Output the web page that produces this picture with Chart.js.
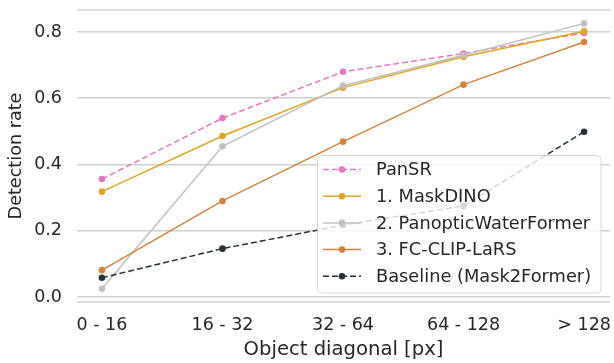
<!DOCTYPE html>
<html>
<head>
<meta charset="utf-8">
<script src="https://cdn.jsdelivr.net/npm/chart.js@4.4.1/dist/chart.umd.min.js"></script>
<style>
  html, body { margin: 0; padding: 0; background: #ffffff; }
</style>
</head>
<body>
<canvas id="detCanvas" width="614" height="363"></canvas>
<script>
// bins of object diagonal
var categories = ['0 - 16', '16 - 32', '32 - 64', '64 - 128', '> 128'];
var yTicks = [0.0, 0.2, 0.4, 0.6, 0.8];

var panSR = [0.356, 0.540, 0.680, 0.735, 0.797];
var maskDINO = [0.318, 0.486, 0.632, 0.725, 0.802];
var panopticWaterFormer = [0.025, 0.455, 0.638, 0.730, 0.826];
var fcClipLaRS = [0.081, 0.290, 0.469, 0.641, 0.770];
var baseline = [0.058, 0.146, 0.217, 0.275, 0.499];

var FONT = "'DejaVu Sans', sans-serif";
var TEXT = '#262626';
var GRID = '#d0d0d0';

function toPoints(arr){
    var pts = [];
    for (var i = 0; i < arr.length; i++) {
        pts.push({x: i, y: arr[i]});
    }
    return pts;
}

function makeSet(label, data, color, dashed){
    return {
        label: label,
        data: toPoints(data),
        borderColor: color,
        backgroundColor: color,
        borderWidth: 1.5,
        borderDash: dashed ? [6, 3] : [],
        pointRadius: 3.3,
        pointBorderWidth: 0,
        pointBackgroundColor: color,
        tension: 0,
        fill: false
    };
}

var datasets = [
    makeSet('PanSR', panSR, '#e377c2', true),
    makeSet('1. MaskDINO', maskDINO, '#e0a522', false),
    makeSet('2. PanopticWaterFormer', panopticWaterFormer, '#c0c0c0', false),
    makeSet('3. FC-CLIP-LaRS', fcClipLaRS, '#d2843f', false),
    makeSet('Baseline (Mask2Former)', baseline, '#263238', true)
];
// draw order: baseline below, PanSR on top
var order = [4, 3, 2, 1, 0];
for (var k = 0; k < datasets.length; k++) datasets[k].order = order[k];

// spines at top and bottom of plot area
var framePlugin = {
    id: 'frame',
    beforeDatasetsDraw: function(chart){
        var ctx = chart.ctx, a = chart.chartArea;
        ctx.save();
        ctx.strokeStyle = GRID;
        ctx.lineWidth = 1.5;
        ctx.beginPath();
        ctx.moveTo(a.left, a.top); ctx.lineTo(a.right, a.top);
        ctx.moveTo(a.left, a.bottom); ctx.lineTo(a.right, a.bottom);
        ctx.stroke();
        ctx.restore();
    }
};

// matplotlib style legend box inside the plot
var legendPlugin = {
    id: 'boxLegend',
    afterDatasetsDraw: function(chart){
        var ctx = chart.ctx;
        var x = 317.5, y = 155.5, w = 283.5, h = 137.5, r = 4;
        ctx.save();
        ctx.beginPath();
        ctx.moveTo(x + r, y);
        ctx.arcTo(x + w, y, x + w, y + h, r);
        ctx.arcTo(x + w, y + h, x, y + h, r);
        ctx.arcTo(x, y + h, x, y, r);
        ctx.arcTo(x, y, x + w, y, r);
        ctx.closePath();
        ctx.fillStyle = 'rgba(255,255,255,0.8)';
        ctx.fill();
        ctx.strokeStyle = 'rgba(204,204,204,0.8)';
        ctx.lineWidth = 1;
        ctx.stroke();

        ctx.font = '17.8px ' + FONT;
        ctx.textBaseline = 'middle';
        ctx.textAlign = 'left';
        for (var i = 0; i < datasets.length; i++) {
            var ds = datasets[i];
            var cy = 169.5 + i * 26.7;
            ctx.strokeStyle = ds.borderColor;
            ctx.lineWidth = 1.5;
            ctx.setLineDash(ds.borderDash);
            ctx.beginPath();
            ctx.moveTo(323, cy); ctx.lineTo(361, cy);
            ctx.stroke();
            ctx.setLineDash([]);
            ctx.fillStyle = ds.borderColor;
            ctx.beginPath();
            ctx.arc(342, cy, 3.3, 0, Math.PI * 2);
            ctx.fill();
            ctx.fillStyle = TEXT;
            ctx.fillText(ds.label, 376, cy + 1);
        }
        ctx.restore();
    }
};

var config = {
    type: 'line',
    data: { datasets: datasets },
    options: {
        responsive: false,
        animation: false,
        layout: { padding: { top: 10, right: 2, left: 0, bottom: 0 } },
        plugins: {
            legend: { display: false },
            tooltip: { enabled: false }
        },
        scales: {
            x: {
                type: 'linear',
                min: -0.207,
                max: 4.215,
                afterBuildTicks: function(scale){
                    scale.ticks = categories.map(function(c, i){ return {value: i}; });
                },
                afterFit: function(scale){
                    scale.height = 61;
                    scale.paddingLeft = 0;
                    scale.paddingRight = 0;
                },
                ticks: {
                    autoSkip: false,
                    maxRotation: 0,
                    padding: 13,
                    color: TEXT,
                    font: { family: FONT, size: 17.5 },
                    callback: function(v){ return categories[v]; }
                },
                grid: { display: false, drawTicks: false },
                border: { display: false },
                title: {
                    display: true,
                    text: 'Object diagonal [px]',
                    color: TEXT,
                    font: { family: FONT, size: 19.6 },
                    padding: { top: 0, bottom: 1.5 }
                }
            },
            y: {
                min: -0.0151,
                max: 0.8664,
                afterBuildTicks: function(scale){
                    scale.ticks = yTicks.map(function(v){ return {value: v}; });
                },
                afterFit: function(scale){
                    scale.width = 77;
                    scale.paddingTop = 0;
                    scale.paddingBottom = 0;
                },
                ticks: {
                    padding: 15,
                    color: TEXT,
                    font: { family: FONT, size: 17.5 },
                    callback: function(v){ return v.toFixed(1); }
                },
                grid: { color: GRID, lineWidth: 1.5, drawTicks: false },
                border: { display: false },
                title: {
                    display: true,
                    text: 'Detection rate',
                    color: TEXT,
                    font: { family: FONT, size: 17.6 },
                    padding: { top: 5.5, bottom: 0 }
                }
            }
        }
    },
    plugins: [framePlugin, legendPlugin]
};

new Chart(document.getElementById('detCanvas'), config);
</script>
</body>
</html>
